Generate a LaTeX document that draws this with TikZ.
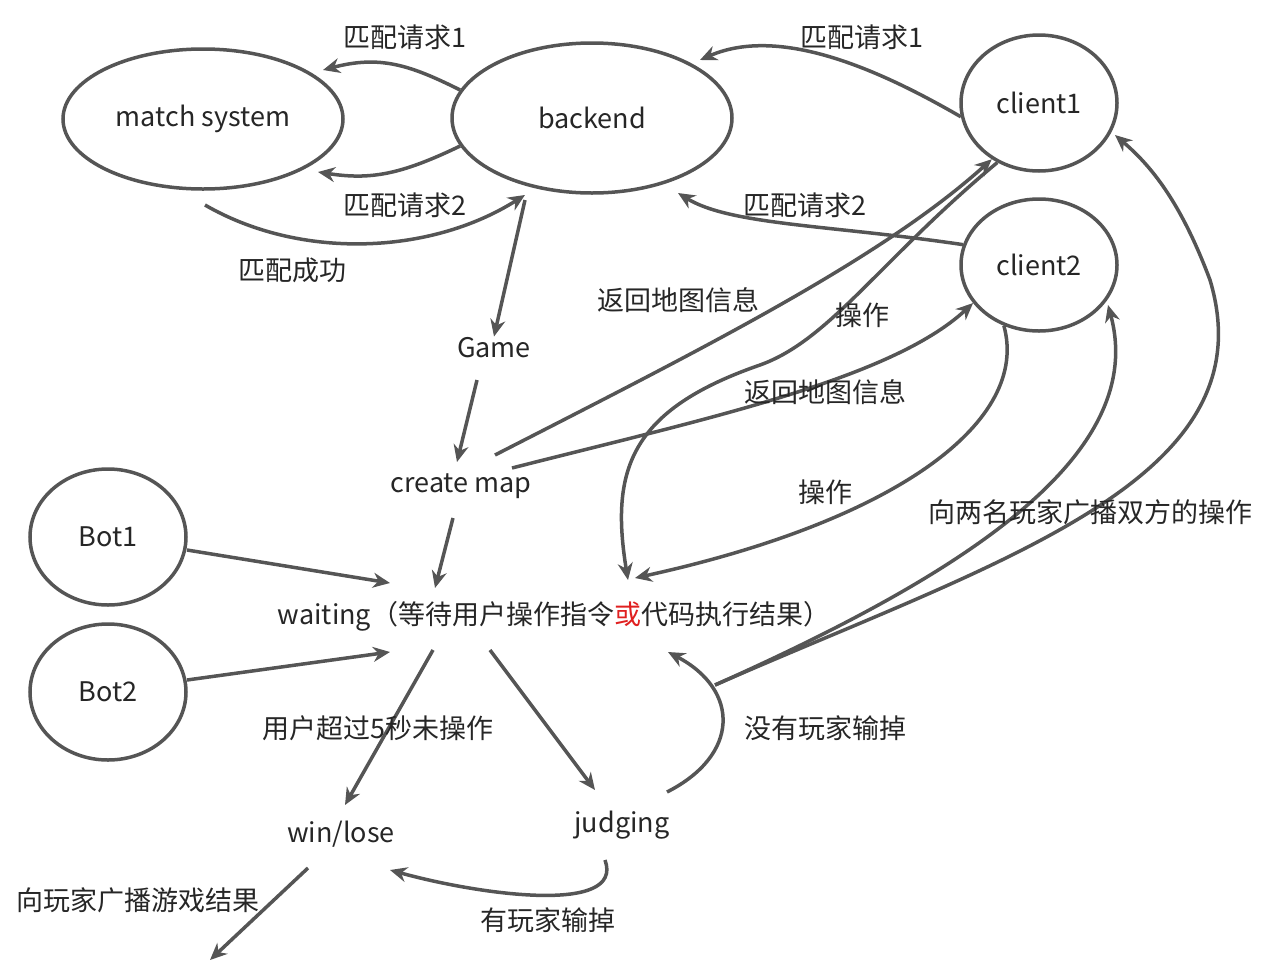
\documentclass[tikz,border=0pt]{standalone}
\usepackage{fontspec}
\setmainfont{Noto Sans CJK SC}
\usetikzlibrary{shapes.geometric,arrows.meta}
\definecolor{ln}{HTML}{555555}
\definecolor{rd}{HTML}{E02020}
\begin{document}
\begin{tikzpicture}[x=1pt,y=-1pt,
  el/.style={ellipse,draw=ln,line width=3.5pt,inner sep=0pt},
  tx/.style={inner sep=1pt,font=\fontsize{27}{32}\selectfont,text=black!85},
  lb/.style={inner sep=1pt,font=\fontsize{27}{32}\selectfont,text=black!85},
  ar/.style={draw=ln,line width=3.5pt,-{Stealth[length=17pt,width=15pt]}}]
\useasboundingbox (0,0) rectangle (1275,967);
\node[el,minimum width=280pt,minimum height=140pt,tx] (ms) at (203,119) {match system};
\node[el,minimum width=280pt,minimum height=150pt,tx] (be) at (592,118) {backend};
\node[el,minimum width=156pt,minimum height=136pt,tx] (c1) at (1039,103) {client1};
\node[el,minimum width=156pt,minimum height=132pt,tx] (c2) at (1039,265) {client2};
\node[el,minimum width=156pt,minimum height=136pt,tx] (b1) at (108,537) {Bot1};
\node[el,minimum width=156pt,minimum height=136pt,tx] (b2) at (108,692) {Bot2};
\node[tx] (game) at (494,348) {Game};
\node[tx] (cm) at (461,486) {create map};
\node[tx] (wt) at (554,616) {waiting（等待用户操作指令\textcolor{rd}{或}代码执行结果）};
\node[tx] (wl) at (341,834) {win/lose};
\node[tx] (jd) at (622,825) {judging};
\coordinate (off) at (210,960);
\coordinate (bc) at (715,685);

\draw[ar] (be.168) .. controls (410,65) and (380,55) .. (323,70);
\draw[ar] (be.192) .. controls (400,175) and (370,180) .. (318,172);
\draw[ar] (205,205) .. controls (300,260) and (430,255) .. (525,195);
\draw[ar] (c1.190) .. controls (880,70) and (780,25) .. (700,60);
\draw[ar] (c2.165) .. controls (830,225) and (730,225) .. (678,193);
\draw[ar] (525,200) -- (game.north);
\draw[ar] (477,380) -- (457,462);
\draw[ar] (495,455) .. controls (700,350) and (880,260) .. (c1.230);
\draw[ar] (512,468) .. controls (700,420) and (890,380) .. (c2.210);
\draw[ar] (c1.235) .. controls (880,260) and (830,340) .. (760,365) .. controls (630,410) and (610,470) .. (628,580);
\draw[ar] (c2.240) .. controls (1030,420) and (900,520) .. (635,578);
\draw[ar] (453,518) -- (435,588);
\draw[ar] (187,550) -- (390,583);
\draw[ar] (187,680) -- (390,652);
\draw[ar] (433,650) -- (345,805);
\draw[ar] (490,650) -- (595,790);
\draw[ar] (667,792) .. controls (740,755) and (740,690) .. (668,652);
\draw[ar] (605,860) .. controls (625,915) and (480,895) .. (390,870);
\draw[ar] (308,868) -- (off);
\draw[ar] (bc) .. controls (1000,560) and (1270,480) .. (1210,280) .. controls (1180,200) and (1150,165) .. (1115,135);
\draw[ar] (bc) .. controls (950,580) and (1150,460) .. (1108,305);

\node[lb] at (405,37) {匹配请求1};
\node[lb] at (405,205) {匹配请求2};
\node[lb] at (292,270) {匹配成功};
\node[lb] at (862,37) {匹配请求1};
\node[lb] at (805,205) {匹配请求2};
\node[lb] at (678,300) {返回地图信息};
\node[lb] at (825,392) {返回地图信息};
\node[lb] at (862,315) {操作};
\node[lb] at (825,492) {操作};
\node[lb] at (378,728) {用户超过5秒未操作};
\node[lb] at (825,728) {没有玩家输掉};
\node[lb] at (548,920) {有玩家输掉};
\node[lb] at (138,900) {向玩家广播游戏结果};
\node[lb] at (1090,512) {向两名玩家广播双方的操作};
\end{tikzpicture}
\end{document}
